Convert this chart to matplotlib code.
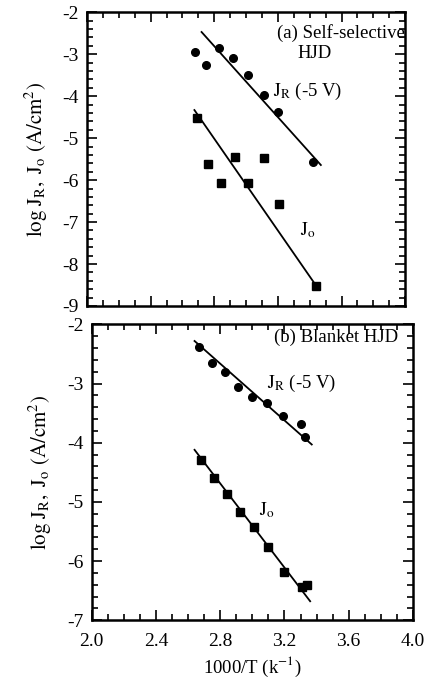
import matplotlib
matplotlib.use("Agg")
import matplotlib.pyplot as plt
from matplotlib.ticker import MultipleLocator

plt.rcParams['font.family'] = 'Liberation Serif'
plt.rcParams['mathtext.fontset'] = 'stix'

# (a) Self-selective HJD
a_jr_x = [2.68, 2.75, 2.83, 2.92, 3.01, 3.11, 3.20, 3.42]
a_jr_y = [-2.95, -3.26, -2.84, -3.08, -3.50, -3.96, -4.37, -5.56]
a_jo_x = [2.69, 2.76, 2.84, 2.93, 3.01, 3.11, 3.21, 3.44]
a_jo_y = [-4.53, -5.62, -6.06, -5.44, -6.08, -5.48, -6.56, -8.52]
a_jr_fit_x = [2.72, 3.47]
a_jr_fit_y = [-2.47, -5.64]
a_jo_fit_x = [2.675, 3.43]
a_jo_fit_y = [-4.33, -8.46]

# (b) Blanket HJD
b_jr_x = [2.67, 2.75, 2.83, 2.91, 3.00, 3.09, 3.19, 3.30, 3.33]
b_jr_y = [-2.38, -2.65, -2.80, -3.05, -3.23, -3.33, -3.55, -3.68, -3.91]
b_jo_x = [2.68, 2.76, 2.84, 2.92, 3.01, 3.10, 3.20, 3.31, 3.34]
b_jo_y = [-4.30, -4.59, -4.86, -5.17, -5.43, -5.76, -6.18, -6.44, -6.41]
b_jr_fit_x = [2.64, 3.37]
b_jr_fit_y = [-2.28, -4.03]
b_jo_fit_x = [2.64, 3.36]
b_jo_fit_y = [-4.12, -6.68]

fig = plt.figure(figsize=(4.31, 6.83), dpi=100)
ax1 = fig.add_axes([0.202, 0.552, 0.738, 0.430])
ax2 = fig.add_axes([0.213, 0.092, 0.745, 0.433])

fs = 14   # tick labels
fa = 13.5  # annotations
ylabel = r'$\mathrm{log\ J_R,\ J_o\ (A/cm^2)}$'

def style(ax, ymin, ymax):
    ax.set_xlim(2.0, 4.0)
    ax.set_ylim(ymin, ymax)
    ax.xaxis.set_major_locator(MultipleLocator(0.4))
    ax.xaxis.set_minor_locator(MultipleLocator(0.1))
    ax.yaxis.set_major_locator(MultipleLocator(1))
    ax.yaxis.set_minor_locator(MultipleLocator(0.2))
    ax.tick_params(which='both', direction='in', top=True, right=True, width=1.2, labelsize=fs)
    ax.tick_params(which='major', length=7)
    ax.tick_params(which='minor', length=4)
    ax.tick_params(axis='y', pad=6)
    ax.tick_params(axis='x', pad=9)
    for sp in ax.spines.values():
        sp.set_linewidth(1.8)
    ax.set_ylabel(ylabel, fontsize=15, labelpad=9)
    ax.yaxis.set_major_formatter(plt.FuncFormatter(lambda v, p: '%d' % v))

# panel (a)
ax1.plot(a_jr_x, a_jr_y, 'o', color='black', markersize=5.5)
ax1.plot(a_jo_x, a_jo_y, 's', color='black', markersize=5.5)
ax1.plot(a_jr_fit_x, a_jr_fit_y, '-', color='black', linewidth=1.3)
ax1.plot(a_jo_fit_x, a_jo_fit_y, '-', color='black', linewidth=1.3)
style(ax1, -9, -2)
ax1.tick_params(labelbottom=False)
ax1.text(4.0, -2.5, '(a) Self-selective', fontsize=fa, ha='right', va='center')
ax1.text(3.43, -2.98, 'HJD', fontsize=fa, ha='center', va='center')
ax1.text(3.17, -3.88, r'$\mathrm{J_R}$ (-5 V)', fontsize=fa, ha='left', va='center')
ax1.text(3.34, -7.2, r'$\mathrm{J_o}$', fontsize=fa, ha='left', va='center')

# panel (b)
ax2.plot(b_jr_x, b_jr_y, 'o', color='black', markersize=5.5)
ax2.plot(b_jo_x, b_jo_y, 's', color='black', markersize=5.5)
ax2.plot(b_jr_fit_x, b_jr_fit_y, '-', color='black', linewidth=1.3)
ax2.plot(b_jo_fit_x, b_jo_fit_y, '-', color='black', linewidth=1.3)
style(ax2, -7, -2)
ax2.xaxis.set_major_formatter(plt.FuncFormatter(lambda v, p: '%.1f' % v))
ax2.set_xlabel(r'1000/T (k$^{-1}$)', fontsize=fa, labelpad=4)
ax2.text(3.905, -2.21, '(b) Blanket HJD', fontsize=fa, ha='right', va='center')
ax2.text(3.09, -2.99, r'$\mathrm{J_R}$ (-5 V)', fontsize=fa, ha='left', va='center')
ax2.text(3.04, -5.14, r'$\mathrm{J_o}$', fontsize=fa, ha='left', va='center')

fig.savefig('out.png', dpi=100)
